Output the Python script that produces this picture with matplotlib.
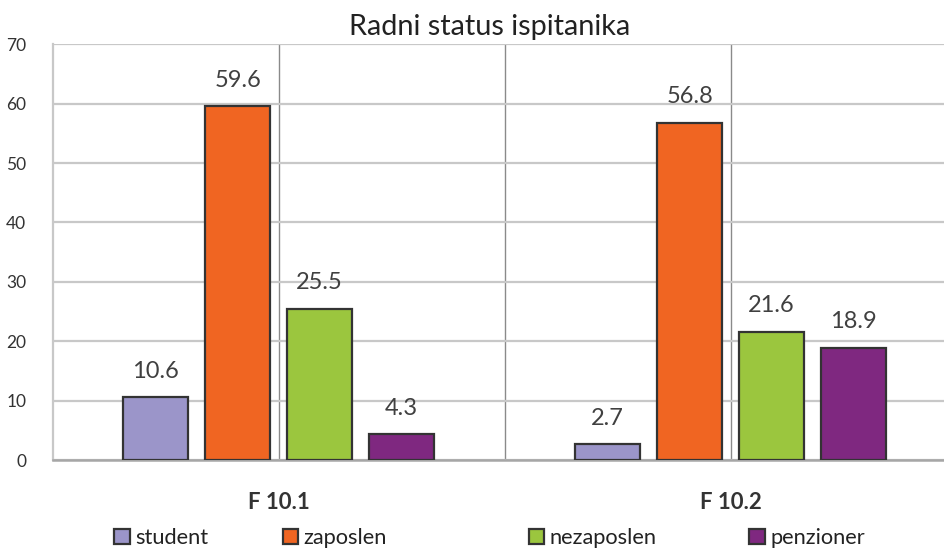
import matplotlib
matplotlib.use("Agg")
import matplotlib.pyplot as plt
from matplotlib.patches import Patch
import numpy as np

plt.rcParams['font.family'] = ['Lato', 'DejaVu Sans']

# data
groups = ["F 10.1", "F 10.2"]
series = ["student", "zaposlen", "nezaposlen", "penzioner"]
student = [10.6, 2.7]
zaposlen = [59.6, 56.8]
nezaposlen = [25.5, 21.6]
penzioner = [4.3, 18.9]
values = [student, zaposlen, nezaposlen, penzioner]
colors = ["#9B95C9", "#F06522", "#9BC63E", "#7F2880"]
edge = "#333333"
text_col = "#404040"

fig = plt.figure(figsize=(9.45, 5.49), dpi=100)
ax = fig.add_axes([0.0558, 0.1621, 0.9442, 0.7572])

x = np.arange(len(groups))
step = 0.1814
width = 0.1438
for i, (name, vals) in enumerate(zip(series, values)):
    bars = ax.bar(x + (i - 1.5) * step, vals, width, color=colors[i],
                  edgecolor=edge, linewidth=1.6, label=name, zorder=3)
    ax.bar_label(bars, labels=[f"{v:.1f}" for v in vals], padding=11,
                 fontsize=17, color=text_col)

ax.set_xlim(-0.5, 1.474)
ax.set_ylim(0, 70)
ax.set_yticks(range(0, 71, 10))
ax.set_xticks(x)
ax.set_xticklabels(groups, fontsize=16, fontweight="bold", color="#333333")
ax.set_xticks([0.5], minor=True)
ax.tick_params(axis="x", which="both", length=0, pad=23)
ax.tick_params(axis="y", length=0, pad=19, labelsize=12.5, labelcolor="#333333")

ax.set_axisbelow(True)
ax.grid(axis="y", color="#C8C8C8", linewidth=1.6)
ax.grid(axis="x", which="both", color="#8A8A8A", linewidth=1.0)

for s in ["top", "right"]:
    ax.spines[s].set_visible(False)
ax.spines["left"].set_color("#C8C8C8")
ax.spines["left"].set_linewidth(1.6)
ax.spines["bottom"].set_color("#A6A6A6")
ax.spines["bottom"].set_linewidth(1.8)

fig.text(0.518, 0.951, "Radni status ispitanika", ha="center", va="center",
         fontsize=20.8, color="#222222")

# legend entries placed one by one as in the reference
leg_x = [0.121, 0.299, 0.560, 0.793]
for i, name in enumerate(series):
    h = Patch(facecolor=colors[i], edgecolor=edge, linewidth=1.6)
    lg = fig.legend(handles=[h], labels=[name], loc="center left",
                    bbox_to_anchor=(leg_x[i], 0.020), frameon=False,
                    fontsize=15.7, handlelength=0.7, handleheight=0.7,
                    handletextpad=0.25, borderpad=0, borderaxespad=0)
    for t in lg.get_texts():
        t.set_color("#222222")

fig.savefig("out.png", dpi=100)
